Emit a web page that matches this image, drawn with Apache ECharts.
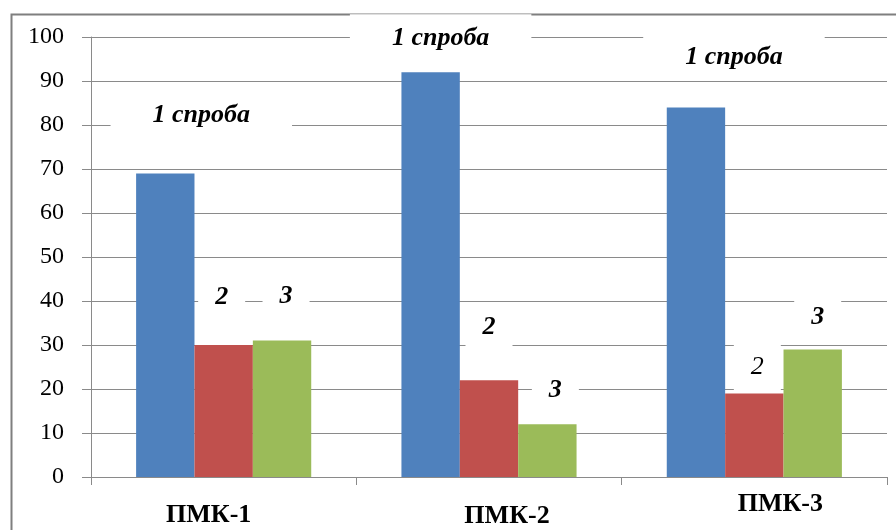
<!DOCTYPE html>
<html>
<head>
<meta charset="utf-8">
<script src="https://cdn.jsdelivr.net/npm/echarts@6/dist/echarts.min.js"></script>
<style>
html,body{margin:0;padding:0;background:#fff;}
#c{width:896px;height:530px;}
</style>
</head>
<body>
<div id="c"></div>
<script>
var categories = ['ПМК-1', 'ПМК-2', 'ПМК-3'];
var yTicks = [0, 10, 20, 30, 40, 50, 60, 70, 80, 90, 100];
var series1 = [69, 92, 84];
var series2 = [30, 22, 19];
var series3 = [31, 12, 29];
var labels1 = ['1 спроба', '1 спроба', '1 спроба'];
var labels2 = ['2', '2', '2'];
var labels3 = ['3', '3', '3'];

// label offsets / paddings (style, in px, relative to bar top centre)
var offsets1 = [[36, -58], [10, -34], [38, -50]];
var offsets2 = [[-2, -48], [0, -53], [3, -26]];
var offsets3 = [[4, -44], [8, -34], [5, -32]];
var paddings1 = [[12, 42, 10, 42], [12, 42, 10, 42], [0, 42, 20, 42]];
var paddings2 = [[12, 17, 8, 17], [12, 17, 8, 17], [12, 17, 8, 17]];
var paddings3 = [[12, 17, 8, 17], [12, 17, 8, 17], [12, 17, 8, 17]];
var weights2 = ['bold', 'bold', 'normal'];

var FONT = '"Liberation Serif", "Times New Roman", serif';
var GRID = '#8a8a8a';

function build(values, texts, offs, pads, size, weights) {
  return values.map(function (v, i) {
    return {
      value: v,
      label: {
        show: true,
        position: 'top',
        distance: 0,
        align: 'center',
        verticalAlign: 'middle',
        offset: offs[i],
        formatter: texts[i],
        fontFamily: FONT,
        fontStyle: 'italic',
        fontWeight: weights ? weights[i] : 'bold',
        fontSize: size,
        color: '#000',
        backgroundColor: '#fff',
        padding: pads[i]
      }
    };
  });
}

var chart = echarts.init(document.getElementById('c'), null, {renderer: 'canvas'});
chart.setOption({
  animation: false,
  backgroundColor: '#fff',
  graphic: [{
    type: 'rect',
    left: 9, top: 12,
    shape: {width: 900, height: 540},
    style: {fill: 'none', stroke: '#7f7f7f', lineWidth: 2},
    z: -1
  }],
  grid: {left: 91, right: 9, top: 37, bottom: 53, containLabel: false},
  xAxis: {
    type: 'category',
    data: categories,
    boundaryGap: true,
    axisLine: {show: true, lineStyle: {color: GRID, width: 1}},
    axisTick: {show: true, length: 8, interval: 0, lineStyle: {color: GRID}},
    axisLabel: {
      interval: 0,
      margin: 14,
      color: '#000',
      fontFamily: FONT,
      fontWeight: 'bold',
      fontSize: 26,
      formatter: function (v, i) {
        return '{s' + i + '|' + v + '}';
      },
      rich: {
        s0: {fontFamily: FONT, fontWeight: 'bold', fontSize: 26, color: '#000', padding: [11, 30, 0, 0]},
        s1: {fontFamily: FONT, fontWeight: 'bold', fontSize: 26, color: '#000', padding: [12, 0, 0, 36]},
        s2: {fontFamily: FONT, fontWeight: 'bold', fontSize: 26, color: '#000', padding: [0, 0, 0, 52]}
      }
    },
    splitLine: {show: false}
  },
  yAxis: {
    type: 'value',
    min: yTicks[0],
    max: yTicks[yTicks.length - 1],
    interval: yTicks[1] - yTicks[0],
    axisLine: {show: true, lineStyle: {color: GRID, width: 1}},
    axisTick: {show: true, length: 9, lineStyle: {color: GRID}},
    axisLabel: {
      margin: 27,
      color: '#000',
      fontFamily: FONT,
      fontSize: 24
    },
    splitLine: {show: true, lineStyle: {color: GRID, width: 1}}
  },
  series: [
    {
      type: 'bar',
      name: '1',
      data: build(series1, labels1, offsets1, paddings1, 26),
      itemStyle: {color: '#4F81BD'},
      barGap: '0%',
      barCategoryGap: '34%'
    },
    {
      type: 'bar',
      name: '2',
      data: build(series2, labels2, offsets2, paddings2, 26, weights2),
      itemStyle: {color: '#C0504D'},
      barGap: '0%',
      barCategoryGap: '34%'
    },
    {
      type: 'bar',
      name: '3',
      data: build(series3, labels3, offsets3, paddings3, 26),
      itemStyle: {color: '#9BBB59'},
      barGap: '0%',
      barCategoryGap: '34%'
    }
  ]
});
</script>
</body>
</html>
